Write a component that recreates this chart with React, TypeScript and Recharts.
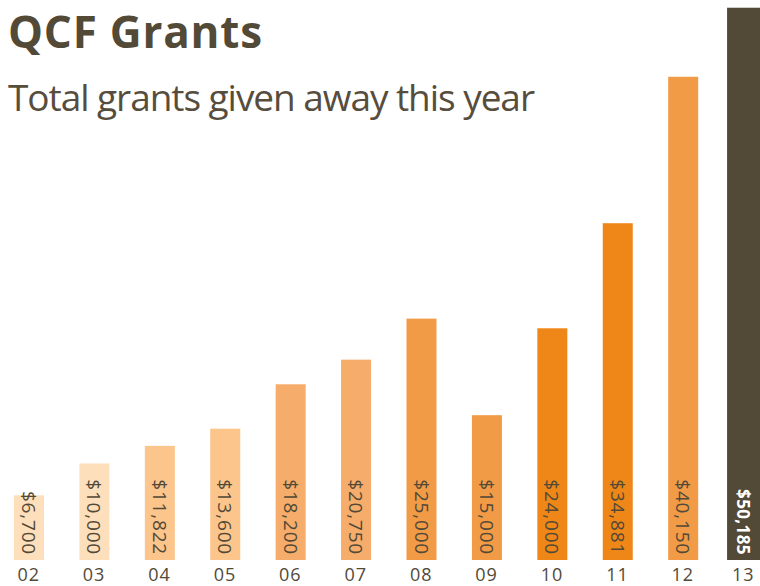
import React from "react";
import { BarChart, Bar, XAxis, YAxis } from "recharts";

const years = ["02", "03", "04", "05", "06", "07", "08", "09", "10", "11", "12", "13"];
const grantLabels = ["$6,700", "$10,000", "$11,822", "$13,600", "$18,200", "$20,750", "$25,000", "$15,000", "$24,000", "$34,881", "$40,150", "$50,185"];
const barHeights = [6700, 10000, 11822, 13600, 18200, 20750, 25000, 15000, 24000, 34881, 50050, 57200];
const barColors = ["#fddfbc", "#fddfbc", "#fbc58c", "#fbc58c", "#f6ac6a", "#f6ac6a", "#f19b47", "#f19b47", "#ee8718", "#ee8718", "#f19b47", "#524937"];

const data = years.map((y, i) => ({ year: y, value: barHeights[i], label: grantLabels[i] }));

const TEXT = "#524937";
const FONT = "'Open Sans', sans-serif";
const LAST = years.length - 1;

const BarShape = (props: any) => {
  const { x, y, width, height, index, payload } = props;
  const isLast = index === LAST;
  const bx = isLast ? x - 6.5 : x;
  const bw = isLast ? 33 : width;
  const cx = bx + bw / 2;
  const by = y + height - 5;
  return (
    <g>
      <rect x={bx} y={y} width={bw} height={height} fill={barColors[index]} />
      <text
        x={cx}
        y={by}
        transform={`rotate(90 ${cx} ${by})`}
        textAnchor="end"
        dominantBaseline="central"
        fontFamily={FONT}
        fontSize={isLast ? 17 : 19}
        fontWeight={isLast ? 700 : 400}
        letterSpacing={isLast ? 0.4 : 0.8}
        fill={isLast ? "#ffffff" : TEXT}
      >
        {payload.label}
      </text>
    </g>
  );
};

const Tick = (props: any) => {
  const { x, y, payload, index } = props;
  const tx = index === LAST ? x - 5 : x;
  return (
    <text x={tx} y={y} dy={13} textAnchor="middle" fontFamily={FONT} fontSize={18} letterSpacing={1} fill={TEXT}>
      {payload.value}
    </text>
  );
};

export default function App() {
  return (
    <div style={{ position: "fixed", left: 0, top: 0, width: 760, height: 586, overflow: "hidden", background: "#fff" }}>
      <div style={{ position: "absolute", left: -3.7, top: 0 }}>
        <BarChart width={785} height={586} data={data} margin={{ top: 0, right: 0, left: 0, bottom: 0 }}>
          <YAxis hide domain={[0, 58000]} />
          <XAxis
            dataKey="year"
            axisLine={false}
            tickLine={false}
            interval={0}
            height={26}
            tick={<Tick />}
          />
          <Bar dataKey="value" barSize={30} isAnimationActive={false} shape={<BarShape />} />
        </BarChart>
      </div>
      <svg width={760} height={130} style={{ position: "absolute", left: 0, top: 0, pointerEvents: "none" }}>
        <text x={8} y={48} fontFamily={FONT} fontWeight={700} fontSize={44} fill={TEXT} textLength={254} lengthAdjust="spacing">
          QCF Grants
        </text>
        <text x={8} y={111} fontFamily={FONT} fontWeight={400} fontSize={37} fill="#574d3d" textLength={527} lengthAdjust="spacing">
          Total grants given away this year
        </text>
      </svg>
    </div>
  );
}
